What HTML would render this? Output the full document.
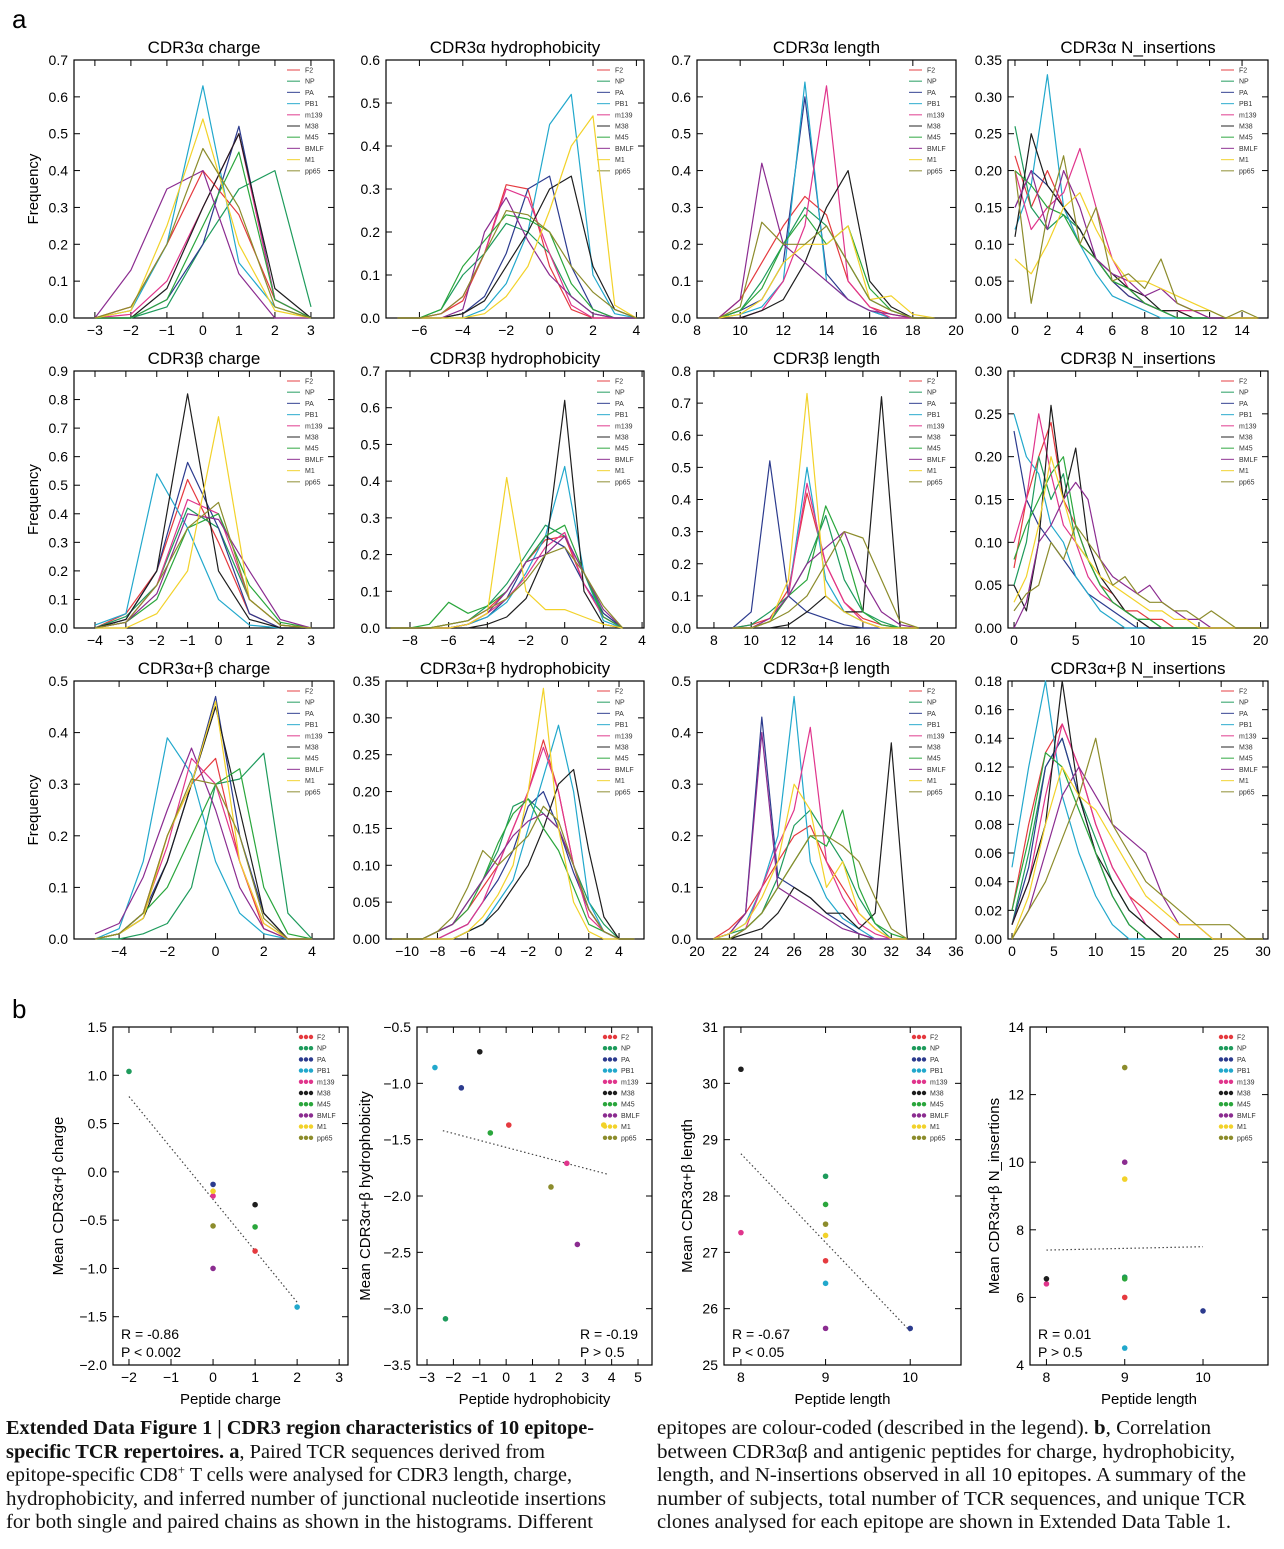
<!DOCTYPE html>
<html><head><meta charset="utf-8">
<style>
html,body{margin:0;padding:0;background:#fff;}
svg{display:block;}
</style></head>
<body>
<svg id="fig" width="1284" height="1549" xmlns="http://www.w3.org/2000/svg" font-family="'Liberation Sans', 'DejaVu Sans', sans-serif">
<text x="12" y="28" font-size="26">a</text>
<text x="12" y="1018" font-size="26">b</text>
<g font-family="'Liberation Serif', serif" font-size="20" fill="#111">
<text x="6" y="1434" textLength="588" lengthAdjust="spacingAndGlyphs"><tspan font-weight="bold">Extended Data Figure 1 | CDR3 region characteristics of 10 epitope-</tspan></text>
<text x="6" y="1458" textLength="539" lengthAdjust="spacingAndGlyphs"><tspan font-weight="bold">specific TCR repertoires. a</tspan>, Paired TCR sequences derived from</text>
<text x="6" y="1481" textLength="566" lengthAdjust="spacingAndGlyphs">epitope-specific CD8<tspan dy="-7" font-size="13">+</tspan><tspan dy="7"> T cells were analysed for CDR3 length, charge,</tspan></text>
<text x="6" y="1505" textLength="600" lengthAdjust="spacingAndGlyphs">hydrophobicity, and inferred number of junctional nucleotide insertions</text>
<text x="6" y="1528" textLength="587" lengthAdjust="spacingAndGlyphs">for both single and paired chains as shown in the histograms. Different</text>
<text x="657" y="1434" textLength="554" lengthAdjust="spacingAndGlyphs">epitopes are colour-coded (described in the legend). <tspan font-weight="bold">b</tspan>, Correlation</text>
<text x="657" y="1458" textLength="578" lengthAdjust="spacingAndGlyphs">between CDR3αβ and antigenic peptides for charge, hydrophobicity,</text>
<text x="657" y="1481" textLength="589" lengthAdjust="spacingAndGlyphs">length, and N-insertions observed in all 10 epitopes. A summary of the</text>
<text x="657" y="1505" textLength="589" lengthAdjust="spacingAndGlyphs">number of subjects, total number of TCR sequences, and unique TCR</text>
<text x="657" y="1528" textLength="574" lengthAdjust="spacingAndGlyphs">clones analysed for each epitope are shown in Extended Data Table 1.</text>
</g>
</svg>
<script>
const epitopes=['F2','NP','PA','PB1','m139','M38','M45','BMLF','M1','pp65'];
const colors=['#e53a3f','#1e9b5c','#2c3b8e','#22a8cc','#e0358c','#1e1e1e','#2aa63c','#8b2c90','#f2d22a','#8c8c2c'];

// Row A: CDR3α
const xsA1=[-3,-2,-1,0,1,2,3];
const A1=[[0,.03,.2,.4,.28,.05,0],[0,0,.03,.2,.35,.4,.03],[0,0,.05,.2,.52,.05,0],[0,.02,.2,.63,.15,.03,0],[0,.01,.1,.3,.5,.05,0],[0,0,.08,.3,.5,.08,0],[0,0,.05,.25,.45,.05,0],[0,.13,.35,.4,.12,0,0],[0,.02,.25,.54,.2,.02,0],[0,.03,.2,.46,.3,.03,0]];
const xsA2=[-7,-6,-5,-4,-3,-2,-1,0,1,2,3,4];
const A2=[[0,0,.01,.04,.15,.31,.3,.12,.02,0,0,0],[0,0,.02,.1,.15,.22,.2,.15,.05,.01,0,0],[0,0,0,.01,.05,.15,.3,.33,.12,.02,0,0],[0,0,0,0,.02,.08,.2,.45,.52,.1,.01,0],[0,0,.01,.05,.15,.3,.28,.15,.03,0,0,0],[0,0,0,.01,.04,.12,.2,.3,.33,.12,.02,0],[0,0,.02,.12,.18,.24,.23,.2,.08,.02,0,0],[0,0,0,.02,.2,.28,.18,.1,.05,.01,0,0],[0,0,0,0,.01,.05,.12,.25,.4,.47,.03,0],[0,0,.01,.05,.15,.25,.24,.2,.12,.06,.02,0]];
const xsA3=[9,10,11,12,13,14,15,16,17,18,19];
const A3=[[0,.05,.15,.25,.33,.28,.1,.03,.01,0,0],[0,.02,.1,.2,.3,.25,.15,.05,.02,0,0],[0,.02,.05,.15,.6,.12,.05,.02,0,0,0],[0,.01,.03,.1,.64,.1,.05,.02,0,0,0],[0,0,.02,.1,.25,.63,.1,.03,0,0,0],[0,0,.02,.05,.15,.3,.4,.1,.03,0,0],[0,.02,.08,.2,.28,.2,.25,.08,.02,0,0],[0,.05,.42,.2,.15,.1,.05,.02,.01,0,0],[0,.01,.05,.15,.2,.2,.25,.05,.06,.01,0],[0,.03,.26,.2,.2,.25,.15,.05,.02,0,0]];
const xsA4=[0,1,2,3,4,5,6,7,8,9,10,11,12,13,14,15];
const A4=[[.22,.15,.2,.15,.1,.08,.05,.03,.02,.01,.01,0,0,0,0,0],[.26,.15,.12,.14,.12,.08,.05,.04,.02,.01,0,0,0,0,0,0],[.15,.2,.18,.15,.12,.08,.05,.03,.02,.01,0,0,0,0,0,0],[.12,.18,.33,.15,.1,.06,.03,.02,.01,0,0,0,0,0,0,0],[.2,.12,.15,.17,.23,.15,.08,.04,.02,.01,.01,.01,0,0,0,0],[.11,.25,.18,.15,.12,.08,.06,.04,.03,.01,.01,0,0,0,0,0],[.2,.18,.15,.14,.1,.08,.05,.04,.02,.01,0,0,0,0,0,0],[.15,.2,.12,.2,.15,.08,.06,.05,.03,.04,.02,.01,0,0,0,0],[.08,.06,.1,.15,.17,.12,.08,.05,.05,.04,.03,.02,.01,0,0,0],[.2,.02,.14,.22,.1,.15,.05,.06,.04,.08,.02,.01,.01,0,.01,0]];
// Row B: CDR3β
const xsB1=[-4,-3,-2,-1,0,1,2,3];
const B1=[[0,.05,.2,.52,.3,.05,0,0],[0,.04,.15,.42,.35,.1,.01,0],[0,.03,.2,.58,.35,.05,0,0],[.01,.05,.54,.35,.1,.01,0,0],[0,.02,.15,.45,.4,.1,.01,0],[0,.03,.2,.82,.2,.03,0,0],[0,.02,.1,.35,.4,.15,.02,0],[0,.02,.12,.4,.38,.2,.03,0],[0,0,.05,.2,.74,.1,.01,0],[0,.02,.15,.35,.44,.1,.01,0]];
const xsB2=[-9,-8,-7,-6,-5,-4,-3,-2,-1,0,1,2,3];
const B2=[[0,0,0,.01,.02,.05,.1,.18,.24,.25,.12,.03,0],[0,0,0,.01,.02,.06,.12,.2,.28,.25,.15,.04,0],[0,0,0,0,.01,.03,.08,.18,.25,.22,.12,.04,0],[0,0,0,0,.01,.03,.07,.15,.25,.44,.15,.02,0],[0,0,0,0,.01,.04,.08,.14,.22,.26,.12,.03,0],[0,0,0,0,0,.01,.03,.08,.2,.62,.1,.01,0],[0,0,.01,.07,.04,.06,.1,.18,.25,.28,.15,.03,0],[0,0,0,0,.01,.04,.1,.18,.2,.25,.15,.05,0],[0,0,0,0,.01,.04,.41,.1,.05,.05,.03,.01,0],[0,0,0,.01,.02,.05,.08,.13,.2,.22,.15,.06,0]];
const xsB3=[9,10,11,12,13,14,15,16,17,18,19];
const B3=[[0,.01,.03,.12,.42,.2,.08,.03,.01,0,0],[0,.01,.05,.1,.2,.35,.15,.05,.02,0,0],[0,.05,.52,.1,.05,.03,.01,0,0,0,0],[0,0,.02,.1,.5,.15,.05,.02,0,0,0],[0,0,.02,.1,.45,.2,.08,.02,0,0,0],[0,0,0,.01,.05,.1,.05,.05,.72,0,0],[0,0,.02,.1,.15,.38,.25,.05,.01,0,0],[0,0,.03,.1,.2,.25,.3,.15,.05,.01,0],[0,0,.02,.15,.73,.1,.05,.02,0,0,0],[0,0,.02,.05,.1,.2,.3,.28,.15,.02,0]];
const xsB4=[0,1,2,3,4,5,6,7,8,9,10,11,12,13,14,15,16,17,18,19,20];
const B4=[[.07,.15,.2,.24,.15,.12,.08,.05,.04,.02,.02,.01,.01,0,0,0,0,0,0,0,0],[.05,.1,.2,.15,.18,.1,.08,.05,.03,.02,.01,.01,0,0,0,0,0,0,0,0,0],[.23,.15,.12,.1,.08,.06,.04,.03,.02,.01,0,0,0,0,0,0,0,0,0,0,0],[.25,.2,.18,.12,.1,.06,.04,.02,.01,0,0,0,0,0,0,0,0,0,0,0,0],[.1,.15,.25,.18,.12,.1,.06,.04,.03,.02,.01,0,0,0,0,0,0,0,0,0,0],[.05,.02,.1,.26,.15,.21,.1,.06,.04,.02,.01,0,0,0,0,0,0,0,0,0,0],[.08,.12,.15,.18,.2,.12,.08,.05,.03,.02,.01,.01,0,0,0,0,0,0,0,0,0],[0,.03,.1,.12,.15,.17,.15,.08,.06,.05,.04,.05,.03,.02,.01,.01,0,0,0,0,0],[.03,.06,.12,.2,.15,.1,.08,.06,.05,.04,.03,.02,.02,.01,.01,0,0,0,0,0,0],[.02,.04,.05,.1,.08,.12,.1,.08,.05,.06,.04,.03,.03,.02,.02,.01,.02,.01,0,0,0]];
// Row C: CDR3α+β
const xsC1=[-5,-4,-3,-2,-1,0,1,2,3,4];
const C1=[[0,.01,.05,.2,.3,.35,.15,.02,0,0],[0,0,.01,.03,.1,.3,.31,.36,.05,0],[0,.01,.05,.15,.3,.47,.2,.05,0,0],[0,.02,.15,.39,.32,.15,.05,.01,0,0],[0,.01,.05,.18,.35,.3,.15,.03,0,0],[0,.01,.04,.15,.3,.45,.25,.05,0,0],[0,.01,.05,.1,.2,.3,.33,.1,.01,0],[.01,.03,.12,.25,.37,.25,.1,.02,0,0],[0,.01,.04,.2,.3,.46,.15,.03,0,0],[0,.01,.05,.2,.31,.3,.2,.04,0,0]];
const xsC2=[-11,-10,-9,-8,-7,-6,-5,-4,-3,-2,-1,0,1,2,3,4,5];
const C2=[[0,0,0,.01,.02,.04,.07,.1,.15,.2,.27,.2,.1,.04,.01,0,0],[0,0,0,.01,.02,.05,.08,.12,.18,.19,.17,.15,.1,.05,.02,0,0],[0,0,0,0,.01,.02,.05,.08,.12,.18,.2,.15,.09,.04,.01,0,0],[0,0,0,0,0,.01,.02,.05,.08,.15,.22,.29,.2,.05,.01,0,0],[0,0,0,0,.01,.02,.05,.1,.15,.2,.26,.2,.1,.03,.01,0,0],[0,0,0,0,0,.01,.02,.04,.07,.1,.15,.21,.23,.12,.03,0,0],[0,0,0,.01,.02,.04,.08,.13,.17,.19,.15,.12,.07,.02,.01,0,0],[0,0,0,.01,.02,.05,.08,.11,.14,.16,.17,.15,.1,.04,.01,0,0],[0,0,0,0,0,.01,.03,.06,.1,.2,.34,.15,.05,.01,0,0,0],[0,0,0,.01,.03,.07,.12,.1,.12,.14,.18,.16,.1,.04,.01,0,0]];
const xsC3=[21,22,23,24,25,26,27,28,29,30,31,32,33];
const C3=[[0,.02,.05,.1,.15,.2,.22,.15,.1,.05,.02,0,0],[0,.01,.02,.05,.12,.22,.25,.2,.15,.08,.03,0,0],[0,.01,.05,.43,.12,.1,.08,.05,.03,.01,0,0,0],[0,.01,.03,.1,.2,.47,.15,.08,.04,.02,0,0,0],[0,0,.02,.1,.18,.25,.41,.15,.08,.03,.01,0,0],[0,0,.01,.02,.05,.1,.08,.05,.05,.02,.05,.38,0],[0,0,.02,.05,.1,.15,.2,.18,.25,.1,.03,.01,0],[0,.01,.05,.4,.1,.08,.06,.04,.02,.01,0,0,0],[0,.01,.03,.08,.15,.3,.25,.1,.15,.05,.02,0,0],[0,0,.02,.05,.1,.15,.2,.2,.18,.15,.08,.02,0]];
const xsC4=[0,2,4,6,8,10,12,14,16,18,20,22,24,26,28,30];
const C4=[[.02,.08,.13,.15,.12,.08,.05,.03,.02,.01,0,0,0,0,0,0],[.01,.06,.12,.14,.1,.07,.04,.02,.01,0,0,0,0,0,0,0],[.01,.05,.12,.14,.1,.06,.03,.01,0,0,0,0,0,0,0,0],[.05,.12,.18,.1,.06,.03,.01,0,0,0,0,0,0,0,0,0],[.01,.04,.1,.15,.12,.08,.05,.03,.01,0,0,0,0,0,0,0],[.01,.04,.08,.18,.1,.06,.04,.02,.01,0,0,0,0,0,0,0],[.02,.07,.13,.12,.09,.06,.03,.01,0,0,0,0,0,0,0,0],[0,.02,.06,.1,.12,.1,.08,.07,.06,.03,.01,.01,0,0,0,0],[0,.03,.08,.12,.1,.09,.07,.05,.03,.02,.01,.01,0,0,0,0],[0,.02,.04,.07,.1,.14,.08,.06,.04,.03,.02,.01,.01,.01,0,0]];

// Scatter (panel b)
const bx1=[1,-2,0,2,0,1,1,0,0,0];
const by1=[-0.82,1.04,-0.13,-1.4,-0.25,-0.34,-0.57,-1.0,-0.2,-0.56];
const bx2=[0.1,-2.3,-1.7,-2.7,2.3,-1.0,-0.6,2.7,3.7,1.7];
const by2=[-1.37,-3.09,-1.04,-0.86,-1.71,-0.72,-1.44,-2.43,-1.37,-1.92];
const bx3=[9,9,10,9,8,8,9,9,9,9];
const by3=[26.85,28.35,25.65,26.45,27.35,30.25,27.85,25.65,27.3,27.5];
const bx4=[9,9,10,9,8,8,9,9,9,9];
const by4=[6.0,6.6,5.6,4.5,6.4,6.55,6.55,10.0,9.5,12.8];

const svg=document.getElementById('fig');
const NS='http://www.w3.org/2000/svg';
function mk(tag,attrs,parent,txt){const e=document.createElementNS(NS,tag);for(const k in attrs)e.setAttribute(k,attrs[k]);if(txt!==undefined)e.textContent=txt;(parent||svg).appendChild(e);return e;}

function axes(c){
  const g=mk('g',{});
  
  
  const sx=v=>c.L+(v-c.x0)/(c.x1-c.x0)*(c.R-c.L);
  const sy=v=>c.B-(v-c.y0)/(c.y1-c.y0)*(c.B-c.T);
  mk('rect',{x:c.L,y:c.T,width:c.R-c.L,height:c.B-c.T,fill:'none',stroke:'#000','stroke-width':1.2},g);
  const n=Math.round((c.y1-c.y0)/c.ys);
  for(let i=0;i<=n;i++){const v=c.y0+i*c.ys,y=sy(v);
    mk('line',{x1:c.L,x2:c.L+6,y1:y,y2:y,stroke:'#000'},g);mk('line',{x1:c.R,x2:c.R-6,y1:y,y2:y,stroke:'#000'},g);
    const t=mk('text',{x:c.L-6,y:y+5,'text-anchor':'end','font-size':14},g,v.toFixed(c.yd).replace('-','−'));
    }
  for(let v=c.xt0;v<=c.xt1+1e-9;v+=c.xs){const x=sx(v);
    mk('line',{x1:x,x2:x,y1:c.B,y2:c.B-6,stroke:'#000'},g);mk('line',{x1:x,x2:x,y1:c.T,y2:c.T+6,stroke:'#000'},g);
    const t=mk('text',{x:x,y:c.B+17,'text-anchor':'middle','font-size':14},g,String(v).replace('-','−'));
    }
  if(c.title){const t=mk('text',{x:(c.L+c.R)/2,y:c.T-7,'text-anchor':'middle','font-size':17},g,c.title);}
  if(c.ylab){const t=mk('text',{transform:`translate(${c.ylx},${(c.T+c.B)/2}) rotate(-90)`,'text-anchor':'middle','font-size':15},g,c.ylab);}
  if(c.xlab){const t=mk('text',{x:(c.L+c.R)/2,y:c.B+39,'text-anchor':'middle','font-size':15},g,c.xlab);}
  const lg=mk('g',{},g);
  
  epitopes.forEach((ep,i)=>{const y=c.T+10+i*11.2;
    if(c.dots){for(let k=0;k<3;k++)mk('circle',{cx:c.R-47+k*5,cy:y,r:2.2,fill:colors[i]},lg);}
    else mk('line',{x1:c.R-47,x2:c.R-34,y1:y,y2:y,stroke:colors[i],'stroke-width':1.2,opacity:.8},lg);
    const t=mk('text',{x:c.dots?c.R-31:c.R-29,y:y+2.5,'font-size':7,fill:'#333'},lg,ep);
    });
  return {g,sx,sy};
}

function lineChart(c,xs,data){
  const {g,sx,sy}=axes(c);
  data.forEach((s,i)=>{
    const d=s.map((v,j)=>(j?'L':'M')+sx(xs[j]).toFixed(1)+','+sy(v).toFixed(1)).join('');
    const p=mk('path',{d:d,fill:'none',stroke:colors[i],'stroke-width':1.2,'stroke-linejoin':'round'},g);
    
    
  });
}

function scatter(c,xs,ys,trend,stats){
  const {g,sx,sy}=axes(c);
  const tl=mk('line',{x1:sx(trend[0]),y1:sy(trend[1]),x2:sx(trend[2]),y2:sy(trend[3]),stroke:'#444','stroke-width':1.2,'stroke-dasharray':'1.5,2.5'},g);
  
  xs.forEach((x,i)=>{const p=mk('circle',{cx:sx(x),cy:sy(ys[i]),r:2.8,fill:colors[i]},g);
    });
  const ax=stats[2]?c.R-72:c.L+8;
  const t1=mk('text',{x:ax,y:c.B-26,'font-size':14},g,stats[0]);
  const t2=mk('text',{x:ax,y:c.B-8,'font-size':14},g,stats[1]);
}

const A='α',Bt='β',AB='α+β';
lineChart({name:'cdr3a-charge-chart',L:74,R:334,T:60,B:318,x0:-3.58,x1:3.64,y0:0,y1:0.7,ys:0.1,yd:1,xt0:-3,xt1:3,xs:1,title:'CDR3'+A+' charge',ylab:'Frequency',ylx:38},xsA1,A1);
lineChart({name:'cdr3a-hydrophobicity-chart',L:386,R:644,T:60,B:318,x0:-7.54,x1:4.35,y0:0,y1:0.6,ys:0.1,yd:1,xt0:-6,xt1:4,xs:2,title:'CDR3'+A+' hydrophobicity'},xsA2,A2);
lineChart({name:'cdr3a-length-chart',L:697,R:956,T:60,B:318,x0:8,x1:20,y0:0,y1:0.7,ys:0.1,yd:1,xt0:8,xt1:20,xs:2,title:'CDR3'+A+' length'},xsA3,A3);
lineChart({name:'cdr3a-n-insertions-chart',L:1008,R:1268,T:60,B:318,x0:-0.43,x1:15.6,y0:0,y1:0.35,ys:0.05,yd:2,xt0:0,xt1:14,xs:2,title:'CDR3'+A+' N_insertions'},xsA4,A4);
lineChart({name:'cdr3b-charge-chart',L:74,R:334,T:371,B:628,x0:-4.68,x1:3.74,y0:0,y1:0.9,ys:0.1,yd:1,xt0:-4,xt1:3,xs:1,title:'CDR3'+Bt+' charge',ylab:'Frequency',ylx:38},xsB1,B1);
lineChart({name:'cdr3b-hydrophobicity-chart',L:386,R:644,T:371,B:628,x0:-9.24,x1:4.1,y0:0,y1:0.7,ys:0.1,yd:1,xt0:-8,xt1:4,xs:2,title:'CDR3'+Bt+' hydrophobicity'},xsB2,B2);
lineChart({name:'cdr3b-length-chart',L:697,R:956,T:371,B:628,x0:7.09,x1:21.0,y0:0,y1:0.8,ys:0.1,yd:1,xt0:8,xt1:20,xs:2,title:'CDR3'+Bt+' length'},xsB3,B3);
lineChart({name:'cdr3b-n-insertions-chart',L:1008,R:1268,T:371,B:628,x0:-0.49,x1:20.6,y0:0,y1:0.3,ys:0.05,yd:2,xt0:0,xt1:20,xs:5,title:'CDR3'+Bt+' N_insertions'},xsB4,B4);
lineChart({name:'cdr3ab-charge-chart',L:74,R:334,T:681,B:939,x0:-5.87,x1:4.91,y0:0,y1:0.5,ys:0.1,yd:1,xt0:-4,xt1:4,xs:2,title:'CDR3'+AB+' charge',ylab:'Frequency',ylx:38},xsC1,C1);
lineChart({name:'cdr3ab-hydrophobicity-chart',L:386,R:644,T:681,B:939,x0:-11.4,x1:5.65,y0:0,y1:0.35,ys:0.05,yd:2,xt0:-10,xt1:4,xs:2,title:'CDR3'+AB+' hydrophobicity'},xsC2,C2);
lineChart({name:'cdr3ab-length-chart',L:697,R:956,T:681,B:939,x0:20,x1:36,y0:0,y1:0.5,ys:0.1,yd:1,xt0:20,xt1:36,xs:2,title:'CDR3'+AB+' length'},xsC3,C3);
lineChart({name:'cdr3ab-n-insertions-chart',L:1008,R:1268,T:681,B:939,x0:-0.48,x1:30.6,y0:0,y1:0.18,ys:0.02,yd:2,xt0:0,xt1:30,xs:5,title:'CDR3'+AB+' N_insertions'},xsC4,C4);

scatter({name:'charge-correlation-chart',L:113,R:348,T:1027,B:1365,x0:-2.38,x1:3.21,y0:-2,y1:1.5,ys:0.5,yd:1,xt0:-2,xt1:3,xs:1,dots:true,ylab:'Mean CDR3α+β charge',ylx:63,xlab:'Peptide charge'},bx1,by1,[-2,0.78,2,-1.35],['R = -0.86','P < 0.002',false]);
scatter({name:'hydrophobicity-correlation-chart',L:417,R:652,T:1027,B:1365,x0:-3.38,x1:5.53,y0:-3.5,y1:-0.5,ys:0.5,yd:1,xt0:-3,xt1:5,xs:1,dots:true,ylab:'Mean CDR3α+β hydrophobicity',ylx:370,xlab:'Peptide hydrophobicity'},bx2,by2,[-2.4,-1.42,3.9,-1.81],['R = -0.19','P > 0.5',true]);
scatter({name:'length-correlation-chart',L:724,R:961,T:1027,B:1365,x0:7.8,x1:10.6,y0:25,y1:31,ys:1,yd:0,xt0:8,xt1:10,xs:1,dots:true,ylab:'Mean CDR3α+β length',ylx:692,xlab:'Peptide length'},bx3,by3,[8,28.75,10,25.6],['R = -0.67','P < 0.05',false]);
scatter({name:'n-insertions-correlation-chart',L:1030,R:1268,T:1027,B:1365,x0:7.79,x1:10.83,y0:4,y1:14,ys:2,yd:0,xt0:8,xt1:10,xs:1,dots:true,ylab:'Mean CDR3α+β N_insertions',ylx:999,xlab:'Peptide length'},bx4,by4,[8,7.4,10,7.5],['R = 0.01','P > 0.5',false]);
</script>
</body></html>
